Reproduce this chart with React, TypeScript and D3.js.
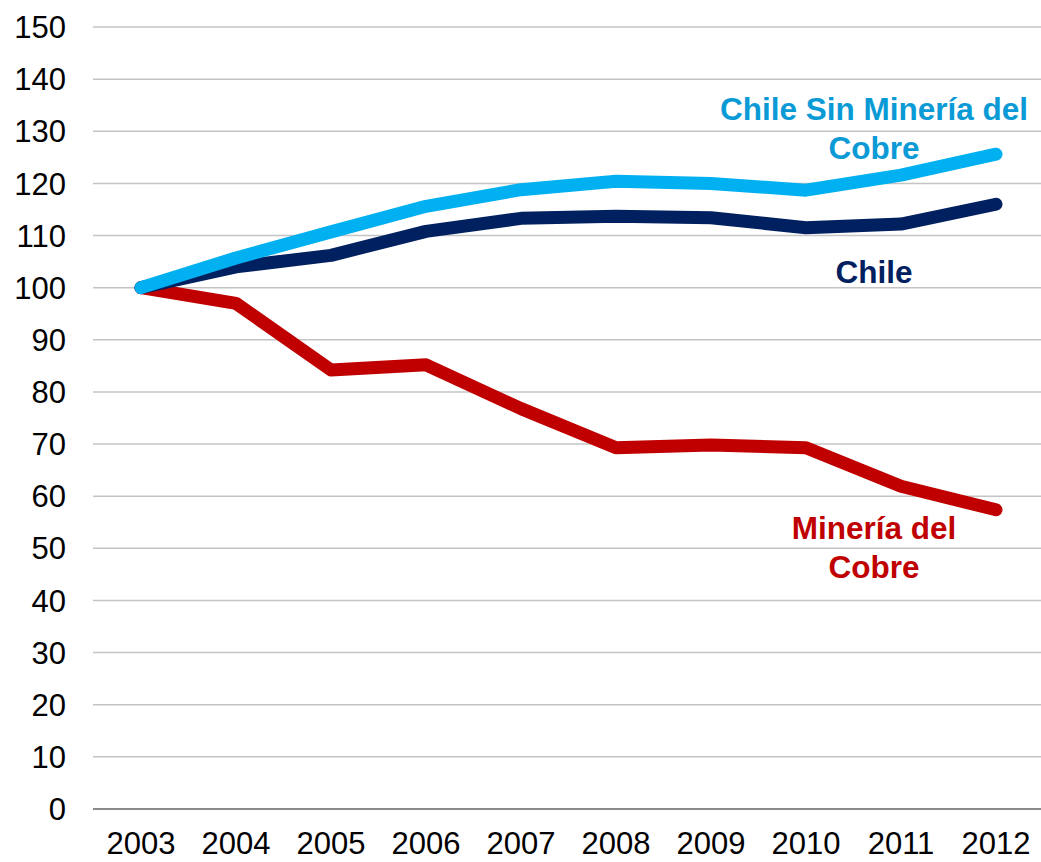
import React from "react";
import * as d3 from "d3";

const years = ["2003", "2004", "2005", "2006", "2007", "2008", "2009", "2010", "2011", "2012"];
const chileSinMineria = [100, 105.7, 110.7, 115.6, 118.8, 120.4, 120.0, 118.7, 121.6, 125.6];
const chile = [100, 104.0, 106.2, 110.8, 113.3, 113.7, 113.4, 111.5, 112.2, 116.0];
const mineriaCobre = [100, 97.0, 84.2, 85.2, 76.8, 69.3, 69.8, 69.3, 61.9, 57.4];
const yTicks = [0, 10, 20, 30, 40, 50, 60, 70, 80, 90, 100, 110, 120, 130, 140, 150];

const W = 1041;
const H = 862;
const FONT = "'Liberation Sans', Arial, sans-serif";

export default function App() {
  const x = d3.scalePoint<string>().domain(years).range([141, 996]);
  const y = d3.scaleLinear().domain([0, 150]).range([809, 27]);
  const line = d3
    .line<number>()
    .x((_, i) => x(years[i]) as number)
    .y((d) => y(d));

  const series = [
    { values: mineriaCobre, color: "#C00000" },
    { values: chile, color: "#002060" },
    { values: chileSinMineria, color: "#00B0F0" },
  ];

  return (
    <svg width={W} height={H} style={{ position: "absolute", left: 0, top: 0, background: "#fff" }}>
      {yTicks.map((t) => (
        <g key={t}>
          <line
            x1={93}
            x2={1043}
            y1={y(t)}
            y2={y(t)}
            stroke={t === 0 ? "#8a8a8a" : "#c4c4c4"}
            strokeWidth={t === 0 ? 2 : 1.5}
          />
          <text x={66} y={y(t)} dy="0.36em" textAnchor="end" fontFamily={FONT} fontSize={31} fill="#000">
            {t}
          </text>
        </g>
      ))}
      {years.map((yr) => (
        <text key={yr} x={x(yr)} y={854} textAnchor="middle" fontFamily={FONT} fontSize={31} fill="#000">
          {yr}
        </text>
      ))}
      {series.map((s, i) => (
        <path
          key={i}
          d={line(s.values) || ""}
          fill="none"
          stroke={s.color}
          strokeWidth={13}
          strokeLinecap="round"
          strokeLinejoin="round"
        />
      ))}
      <g fontFamily={FONT} fontSize={31.5} fontWeight="bold" textAnchor="middle">
        <text x={874} y={120} fill="#0a9ad6">Chile Sin Minería del</text>
        <text x={874} y={159} fill="#0a9ad6">Cobre</text>
        <text x={874} y={283} fill="#002060">Chile</text>
        <text x={874} y={539} fill="#C00000">Minería del</text>
        <text x={874} y={578} fill="#C00000">Cobre</text>
      </g>
    </svg>
  );
}
